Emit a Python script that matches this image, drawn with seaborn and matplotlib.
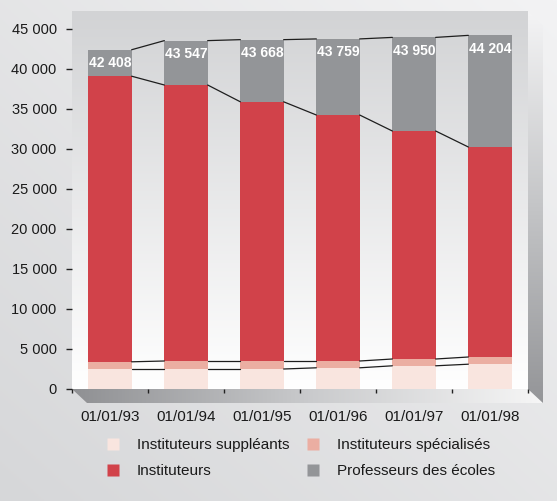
import numpy as np
import pandas as pd
import seaborn as sns
import matplotlib.pyplot as plt
from matplotlib.patches import Polygon
from matplotlib.lines import Line2D
from matplotlib.colors import LinearSegmentedColormap

# donnees
dates = ['01/01/93', '01/01/94', '01/01/95', '01/01/96', '01/01/97', '01/01/98']
suppleants = [2500, 2500, 2500, 2650, 2900, 3100]
specialises = [900, 1000, 1000, 850, 850, 900]
instituteurs = [35700, 34500, 32400, 30750, 28500, 26250]
professeurs = [3308, 5547, 7768, 9509, 11700, 13954]
total_labels = ['42 408', '43 547', '43 668', '43 759', '43 950', '44 204']

series = ['Instituteurs suppléants', 'Instituteurs spécialisés', 'Instituteurs', 'Professeurs des écoles']
colors = ['#F9E5DF', '#EBAEA2', '#D1424A', '#939598']

df = pd.DataFrame({'date': dates, series[0]: suppleants, series[1]: specialises,
                   series[2]: instituteurs, series[3]: professeurs})
cum = df[series].cumsum(axis=1)

sns.set_style('white')
plt.rcParams['font.family'] = ['Liberation Sans', 'DejaVu Sans']

W, H = 557, 501
fig = plt.figure(figsize=(W / 100, H / 100), dpi=100)

# fond (degrade) + sol et mur en perspective
bg = fig.add_axes([0, 0, 1, 1], zorder=0)
bg.axis('off')
xx, yy = np.meshgrid(np.linspace(0, 1, 200), np.linspace(0, 1, 200))
bg_cmap = LinearSegmentedColormap.from_list('bg', ['#D6D7D9', '#F3F3F4'])
bg.imshow((xx + (1 - yy)) / 2, cmap=bg_cmap, extent=(0, W, H, 0), aspect='auto', origin='upper')

floor = Polygon([(72, 389), (528, 389), (543, 403), (87, 403)], closed=True,
                facecolor='none', edgecolor='none')
bg.add_patch(floor)
floor_cmap = LinearSegmentedColormap.from_list('fl', ['#8F9093', '#C9CACC', '#F6F6F6'])
im = bg.imshow(np.linspace(0, 1, 256).reshape(1, -1), cmap=floor_cmap,
               extent=(72, 543, 403, 389), aspect='auto', origin='upper')
im.set_clip_path(floor)

wall = Polygon([(528, 11), (543, 26), (543, 403), (528, 389)], closed=True,
               facecolor='none', edgecolor='none')
bg.add_patch(wall)
wall_cmap = LinearSegmentedColormap.from_list('wl', ['#F4F4F5', '#C4C5C7', '#949598'])
im2 = bg.imshow(np.linspace(0, 1, 256).reshape(-1, 1), cmap=wall_cmap,
                extent=(528, 543, 403, 11), aspect='auto', origin='upper')
im2.set_clip_path(wall)
bg.set_xlim(0, W)
bg.set_ylim(H, 0)

# graphique principal
ax = fig.add_axes([72 / W, (H - 389) / H, 456 / W, 378 / H], zorder=1)
ax.patch.set_alpha(0)
ymax = 47250
bw = 0.57

for s, c in zip(series[::-1], colors[::-1]):
    sns.barplot(x=df['date'], y=cum[s], color=c, saturation=1, width=bw,
                linewidth=0, ax=ax, zorder=2)

panel_cmap = LinearSegmentedColormap.from_list('pn', ['#FFFFFF', '#D2D3D5'])
ax.imshow(np.linspace(0, 1, 256).reshape(-1, 1), cmap=panel_cmap,
          extent=(-0.5, 5.5, 0, ymax), aspect='auto', origin='lower', zorder=0)

# lignes de liaison entre les barres
for s in series:
    v = cum[s].values
    for i in range(len(dates) - 1):
        ax.plot([i + bw / 2, i + 1 - bw / 2], [v[i], v[i + 1]], color='#1E1E1E',
                lw=0.9, zorder=3)

for i, lab in enumerate(total_labels):
    ax.text(i, cum[series[3]].values[i] - 800, lab, ha='center', va='top', color='white',
            fontsize=10, fontweight='bold', zorder=4)

ax.set_xlim(-0.5, 5.5)
ax.set_ylim(0, ymax)
yt = list(range(0, 45001, 5000))
ax.set_yticks(yt)
ax.set_yticklabels([f'{v:,}'.replace(',', ' ') for v in yt])
ax.set_xticks(range(len(dates)))
ax.set_xticklabels(dates)
ax.set_xticks(np.arange(-0.5, 6, 1), minor=True)
ax.set_xlabel('')
ax.set_ylabel('')
for sp in ax.spines.values():
    sp.set_visible(False)
ax.tick_params(axis='y', left=True, length=4, width=1, color='#222222', pad=7,
               labelsize=10.5, labelcolor='#1A1A1A')
ax.tick_params(axis='x', which='major', bottom=True, length=0, pad=15, labelsize=11,
               labelcolor='#1A1A1A')
ax.tick_params(axis='x', which='minor', bottom=True, length=3, width=1, color='#222222')

# legende
handles = [Line2D([], [], marker='s', linestyle='none', markersize=8.6,
                  markerfacecolor=c, markeredgecolor='none') for c in colors]
order = [0, 2, 1, 3]
fig.legend([handles[k] for k in order], [series[k] for k in order], ncol=2,
           loc='center left', bbox_to_anchor=(105 / W, 1 - 458 / H),
           bbox_transform=fig.transFigure, frameon=False, fontsize=11,
           handlelength=1.0, handletextpad=1.07, columnspacing=1.07,
           labelspacing=0.8, borderpad=0, borderaxespad=0, labelcolor='#1A1A1A')

fig.savefig('out.png', dpi=100)
